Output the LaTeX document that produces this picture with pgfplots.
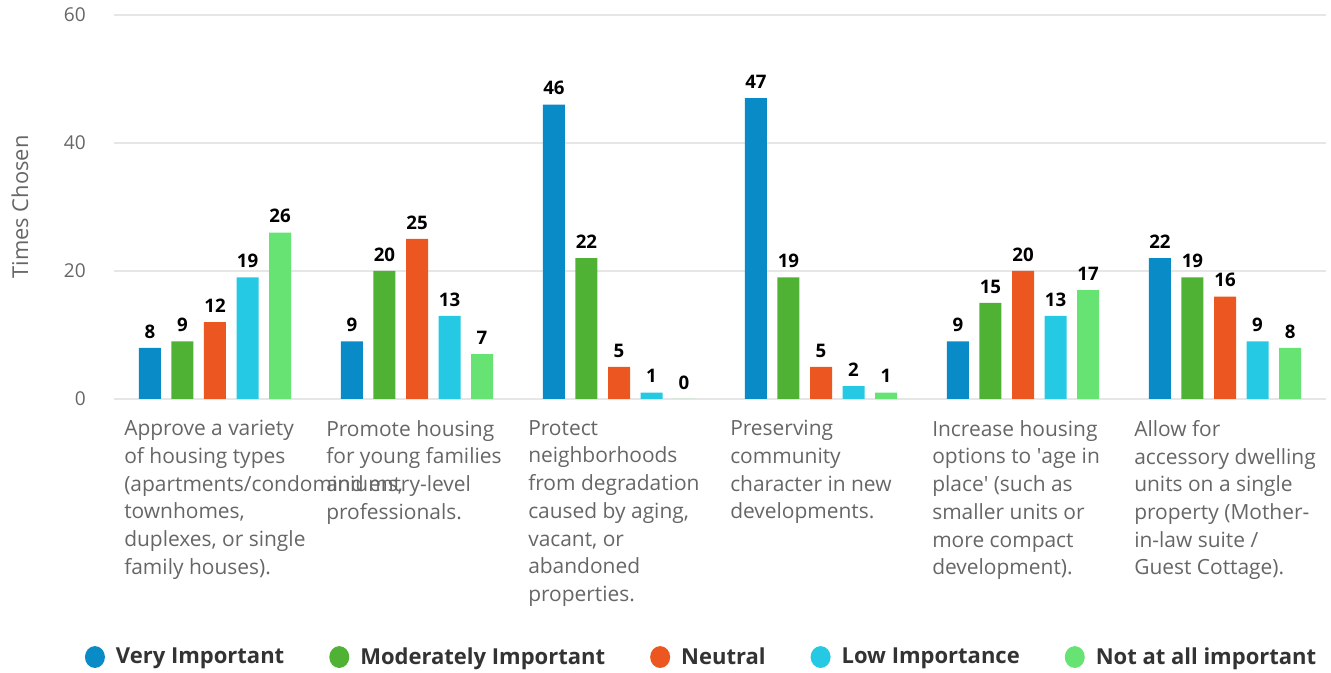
\documentclass[border=0pt]{standalone}
\usepackage{fontspec}
\setmainfont{Open Sans}
\usepackage{pgfplots}
\pgfplotsset{compat=1.18}
\definecolor{c1}{RGB}{8,139,199}
\definecolor{c2}{RGB}{80,178,52}
\definecolor{c3}{RGB}{236,86,32}
\definecolor{c4}{RGB}{38,201,227}
\definecolor{c5}{RGB}{102,227,115}
\definecolor{txtgray}{RGB}{102,102,102}
\definecolor{gridc}{RGB}{230,230,230}
\definecolor{legtxt}{RGB}{51,51,51}
\pgfplotsset{dotleg/.style={legend image code/.code={\fill[##1,draw=none] (7.5pt,0pt) ellipse (7.5pt and 8.2pt);}}}
\begin{document}
\begin{tikzpicture}
\useasboundingbox (-85.5pt,-205.5pt) rectangle (912.75pt,299.25pt);
\begin{axis}[
  scale only axis,
  width=909pt, height=288pt,
  xmin=-0.5, xmax=5.5,
  ymin=0, ymax=60,
  ytick={0,20,40,60},
  xtick={0,1,2,3,4,5},
  xticklabels={
    {Approve a variety\\of housing types\\(apartments/condominiums,\\townhomes,\\duplexes, or single\\family houses).},
    {Promote housing\\for young families\\and entry-level\\professionals.},
    {Protect\\neighborhoods\\from degradation\\caused by aging,\\vacant, or\\abandoned\\properties.},
    {Preserving\\community\\character in new\\developments.},
    {Increase housing\\options to \textquotesingle age in\\place\textquotesingle{} (such as\\smaller units or\\more compact\\development).},
    {Allow for\\accessory dwelling\\units on a single\\property (Mother-\\in-law suite /\\Guest Cottage).}
  },
  /pgf/number format/assume math mode=true,
  ybar=7.9pt, bar width=16.5pt,
  axis line style={draw=none},
  major tick length=0pt,
  ymajorgrids,
  grid style={draw=gridc, line width=1.1pt},
  xticklabel style={anchor=north west, align=left, inner sep=0pt, xshift=-68.25pt, yshift=-15.75pt,
    font=\fontsize{15.7}{20.8}\selectfont, text=txtgray},
  yticklabel style={anchor=east, inner sep=0pt, xshift=-21pt, font=\fontsize{14.3}{16}\selectfont, text=txtgray},
  ylabel={Times Chosen},
  every axis y label/.style={at={(axis description cs:-0.0776,0.5)}, rotate=90, anchor=center,
    font=\fontsize{16.4}{18}\selectfont, text=txtgray},
  nodes near coords,
  every node near coord/.append style={font=\bfseries\fontsize{14}{16}\selectfont, inner sep=0pt, yshift=7pt, text=black},
  legend columns=5,
  legend style={at={(axis description cs:0.484,-0.672)}, anchor=center, draw=none, fill=none,
    font=\bfseries\fontsize{16.5}{20}\selectfont, text=legtxt,
    nodes={inner sep=0pt},
    /tikz/every odd column/.append style={column sep=8.25pt},
    /tikz/every even column/.append style={column sep=33.75pt},
    cells={anchor=west}},
]
\addplot[fill=c1, draw=none, dotleg] coordinates {(0,8) (1,9) (2,46) (3,47) (4,9) (5,22)};
\addplot[fill=c2, draw=none, dotleg] coordinates {(0,9) (1,20) (2,22) (3,19) (4,15) (5,19)};
\addplot[fill=c3, draw=none, dotleg] coordinates {(0,12) (1,25) (2,5) (3,5) (4,20) (5,16)};
\addplot[fill=c4, draw=none, dotleg] coordinates {(0,19) (1,13) (2,1) (3,2) (4,13) (5,9)};
\addplot[fill=c5, draw=none, dotleg] coordinates {(0,26) (1,7) (2,0) (3,1) (4,17) (5,8)};
\legend{Very Important, Moderately Important, Neutral, Low Importance, Not at all important}
\end{axis}
\end{tikzpicture}
\end{document}
